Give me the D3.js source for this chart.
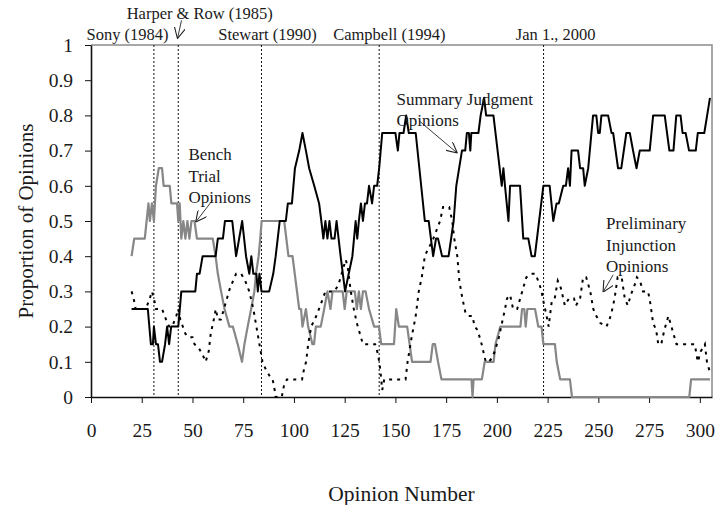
<!DOCTYPE html>
<html>
<head>
<meta charset="utf-8">
<script src="https://cdn.jsdelivr.net/npm/d3@7"></script>
<style>
  body { margin: 0; background: #fff; }
  text { font-family: "Liberation Serif", "DejaVu Serif", serif; fill: #1a1a1a; }
</style>
</head>
<body>
<svg id="chart"></svg>
<script>
// rolling proportions: [opinion number, proportion]
var summaryJudgment = [
  [20,0.25],[28,0.25],[29.5,0.15],[30.5,0.15],[31,0.2],[32,0.15],[33,0.15],[34,0.1],[35,0.1],
  [36.5,0.15],[37.5,0.2],[38.5,0.15],[39.5,0.2],[43,0.2],[44.5,0.3],[51.4,0.3],[52.2,0.35],
  [53.5,0.35],[55,0.4],[61.4,0.4],[62.5,0.45],[65,0.45],[66,0.5],[69.6,0.5],[71.5,0.4],
  [74.5,0.5],[76.4,0.4],[78,0.35],[79,0.4],[80,0.35],[81.5,0.35],[82.2,0.3],[83,0.35],[84,0.3],
  [87.8,0.3],[89.8,0.35],[91,0.4],[92,0.45],[93,0.5],[96,0.5],[97,0.55],[99,0.55],[100.5,0.65],
  [102.6,0.7],[104.2,0.75],[105.9,0.7],[107.5,0.65],[110,0.6],[112.4,0.55],[113.5,0.5],
  [114.5,0.45],[115.5,0.5],[116.5,0.45],[117.5,0.5],[118.5,0.45],[120,0.45],[121,0.5],
  [122,0.45],[123,0.4],[125.2,0.3],[127,0.35],[128.8,0.4],[130.4,0.5],[131.2,0.45],[132,0.5],
  [133,0.55],[134,0.5],[135,0.55],[136,0.55],[137,0.6],[138.5,0.55],[139.5,0.6],[141,0.6],
  [142,0.65],[143.5,0.75],[150,0.75],[151.2,0.7],[152,0.75],[154,0.75],[155.3,0.8],[156.6,0.75],
  [160,0.75],[164.5,0.5],[166.4,0.5],[168.6,0.4],[170,0.45],[171,0.45],[173,0.4],[176.2,0.4],
  [178.7,0.5],[180,0.6],[182.8,0.7],[184.4,0.7],[185.2,0.75],[186.2,0.75],[186.9,0.7],
  [187.4,0.75],[190.9,0.75],[192,0.8],[193.7,0.85],[194.7,0.8],[198.3,0.8],[202.4,0.6],
  [203.2,0.65],[204,0.6],[205.7,0.5],[206.5,0.6],[211.4,0.6],[213,0.45],[215.5,0.45],
  [217.1,0.4],[218.7,0.4],[222.9,0.6],[226,0.6],[227.8,0.5],[229.4,0.55],[230.5,0.55],
  [232.7,0.6],[234,0.6],[235.1,0.65],[236,0.6],[236.8,0.7],[240,0.7],[241,0.65],[242.5,0.65],
  [243.3,0.6],[245,0.65],[247.4,0.8],[249,0.8],[249.9,0.75],[250.7,0.75],[251.5,0.8],
  [254.8,0.8],[256.5,0.75],[257.3,0.75],[259.7,0.65],[261.3,0.65],[263.8,0.75],[265.5,0.75],
  [267.1,0.7],[268.8,0.65],[270.4,0.7],[275.3,0.7],[277,0.8],[282.7,0.8],[285,0.7],[287,0.7],
  [288.4,0.8],[290.5,0.8],[291.5,0.75],[293,0.75],[294.7,0.7],[298,0.7],[299,0.75],
  [302.2,0.75],[305,0.85]
];

var benchTrial = [
  [20,0.4],[21.3,0.45],[26.5,0.45],[28.3,0.55],[29,0.5],[30,0.55],[31,0.5],[32,0.6],[33.4,0.65],
  [35,0.65],[35.8,0.6],[38.8,0.6],[39.6,0.55],[42.4,0.55],[43,0.5],[43.7,0.55],[44.5,0.45],
  [45.5,0.5],[46.5,0.45],[47.5,0.5],[48.5,0.45],[49.5,0.5],[51,0.5],[52.2,0.45],[60,0.45],
  [61.4,0.4],[62.5,0.35],[64.1,0.3],[65.8,0.25],[68.2,0.2],[69.9,0.2],[72.3,0.15],[74.4,0.1],
  [75.6,0.15],[77.2,0.2],[78.9,0.25],[80.5,0.3],[81.3,0.35],[82.6,0.4],[83.4,0.45],[84.1,0.5],
  [95.2,0.5],[97.3,0.4],[99.3,0.4],[102.6,0.25],[103.5,0.25],[104.2,0.2],[105.9,0.25],[107,0.2],
  [109.1,0.15],[109.9,0.15],[110.8,0.2],[113.2,0.2],[114.9,0.25],[116.5,0.3],[118,0.25],
  [119,0.3],[124,0.3],[125,0.25],[126,0.3],[130,0.3],[131,0.25],[132,0.3],[133,0.25],[134,0.3],
  [135.3,0.3],[137,0.25],[139.5,0.2],[141.9,0.2],[143,0.15],[149.3,0.15],[150.4,0.25],
  [151.7,0.2],[155.8,0.2],[157,0.15],[158.2,0.1],[167.3,0.1],[168.4,0.15],[169.5,0.15],
  [171,0.1],[172.7,0.05],[187.5,0.05],[188,0],[188.5,0.05],[192.6,0.05],[194,0.1],[198.4,0.1],
  [199.3,0.15],[201.7,0.2],[211.6,0.2],[212.4,0.25],[213.5,0.25],[214.2,0.2],[215,0.25],
  [218.8,0.25],[220.4,0.2],[222,0.2],[222.9,0.15],[228.6,0.15],[229.5,0.1],[231.2,0.05],
  [236,0.05],[237,0],[294.8,0],[295.7,0.05],[305,0.05]
];

var prelimInjunction = [
  [20,0.3],[21,0.28],[22,0.25],[27,0.25],[29,0.28],[30,0.3],[31,0.28],[32,0.25],[35,0.25],
  [37,0.22],[38.5,0.2],[40,0.2],[42,0.23],[43,0.25],[44,0.22],[46.5,0.18],[48,0.17],[50,0.17],
  [51,0.15],[53,0.14],[55,0.12],[56.5,0.1],[58,0.13],[59,0.18],[60.5,0.22],[61.5,0.25],
  [62.5,0.22],[64,0.22],[65.5,0.25],[67,0.28],[68.5,0.31],[70,0.33],[71.5,0.35],[74,0.35],
  [76,0.33],[78,0.3],[80,0.25],[81.5,0.2],[83,0.15],[84.5,0.1],[86,0.08],[88,0.06],[89.5,0.05],
  [90.5,0.02],[91,0],[94,0],[95,0.03],[96.5,0.05],[104,0.05],[105,0.08],[106,0.1],[107,0.15],
  [108.5,0.2],[111,0.23],[113,0.26],[115.5,0.3],[117,0.3],[120,0.3],[122,0.32],[124,0.36],
  [125.5,0.39],[126.5,0.37],[128,0.3],[129.5,0.25],[131,0.21],[132.5,0.18],[134,0.15],
  [140,0.15],[141.5,0.12],[142.5,0.08],[143.5,0.02],[144.5,0.05],[155,0.05],[156,0.1],
  [158,0.17],[160,0.23],[161.5,0.3],[163,0.34],[164.5,0.4],[166,0.42],[168,0.44],[170,0.47],
  [172,0.5],[173.5,0.54],[176.5,0.54],[178,0.5],[179,0.45],[180.5,0.4],[181.5,0.33],[183,0.28],
  [184.5,0.24],[186,0.23],[188,0.23],[189,0.2],[190.5,0.19],[192.5,0.15],[194.5,0.1],[196,0.1],
  [197.5,0.11],[199,0.13],[201,0.17],[202.5,0.21],[204,0.25],[205,0.28],[206.5,0.29],[208,0.25],
  [210,0.25],[211.5,0.28],[213,0.31],[214.5,0.34],[217,0.35],[219,0.35],[221,0.32],[222,0.3],
  [223,0.27],[224.5,0.23],[225.5,0.2],[227,0.27],[228.5,0.28],[230,0.33],[231.5,0.31],
  [233.5,0.26],[235.5,0.28],[238,0.28],[239,0.26],[241,0.28],[242.5,0.34],[244,0.34],[246,0.3],
  [247.5,0.25],[249,0.23],[251,0.21],[254,0.2],[255.5,0.22],[256.5,0.24],[258,0.28],
  [259.5,0.34],[261.5,0.34],[263,0.28],[264.5,0.26],[266,0.29],[268,0.32],[269,0.34],
  [270.5,0.33],[272,0.3],[274.5,0.3],[275.5,0.27],[276.5,0.23],[277,0.21],[278.5,0.19],
  [279.5,0.15],[281,0.15],[282.5,0.19],[284.5,0.23],[286,0.2],[287.5,0.17],[288.5,0.15],
  [297.5,0.15],[299,0.1],[300.5,0.13],[302.5,0.15],[303.5,0.1],[305,0.07]
];

// landmark cases
var eventX = [31, 43, 84, 142, 223];
var eventLabels = ["Sony (1984)", "Harper & Row (1985)", "Stewart (1990)", "Campbell (1994)", "Jan 1., 2000"];

var xTicks = [0, 25, 50, 75, 100, 125, 150, 175, 200, 225, 250, 275, 300];
var yTicks = [0, 0.1, 0.2, 0.3, 0.4, 0.5, 0.6, 0.7, 0.8, 0.9, 1];

// set the dimensions and margins of the graph
var margin = {top: 45, right: 6, bottom: 108, left: 91},
  width = 718 - margin.left - margin.right,
  height = 505 - margin.top - margin.bottom;

var svg = d3.select("#chart")
  .attr("width", width + margin.left + margin.right)
  .attr("height", height + margin.top + margin.bottom)
  .append("g")
  .attr("transform", "translate(" + margin.left + "," + margin.top + ")");

var x = d3.scaleLinear().domain([0, 306]).range([0, width]);
var y = d3.scaleLinear().domain([0, 1]).range([height, 0]);

// arrow head
svg.append("defs").append("marker")
  .attr("id", "arrow")
  .attr("markerUnits", "userSpaceOnUse")
  .attr("viewBox", "0 0 10 10")
  .attr("refX", 10).attr("refY", 5)
  .attr("markerWidth", 11).attr("markerHeight", 11)
  .attr("orient", "auto")
  .append("path")
  .attr("d", "M0,0 L10,5 L0,10")
  .attr("fill", "none")
  .attr("stroke", "#222")
  .attr("stroke-width", 1);

// frame: top and right in grey
svg.append("path")
  .attr("d", "M0,0 H" + width + " V" + height)
  .attr("fill", "none")
  .attr("stroke", "#8c8c8c")
  .attr("stroke-width", 1.5);

// axes
var xAxis = svg.append("g")
  .attr("transform", "translate(0," + height + ")")
  .call(d3.axisBottom(x).tickValues(xTicks).tickSize(6).tickPadding(20).tickSizeOuter(0));
var yAxis = svg.append("g")
  .call(d3.axisLeft(y).tickValues(yTicks).tickSize(6).tickPadding(12).tickSizeOuter(0)
    .tickFormat(function(d) { return +d.toFixed(1); }));
[xAxis, yAxis].forEach(function(a) {
  a.select(".domain").attr("stroke", "#111").attr("stroke-width", 1.6);
  a.selectAll(".tick line").attr("stroke", "#111").attr("stroke-width", 1);
  a.selectAll("text").style("font-size", "19.5px").attr("fill", "#1a1a1a");
});

// landmark lines
svg.selectAll(".event")
  .data(eventX)
  .enter().append("line")
  .attr("class", "event")
  .attr("x1", function(d) { return x(d); })
  .attr("x2", function(d) { return x(d); })
  .attr("y1", y(1)).attr("y2", y(0))
  .attr("stroke", "#111")
  .attr("stroke-width", 1)
  .attr("stroke-dasharray", "2,2");

// landmark labels (x, proportion) placement above the frame
var eventLabelPos = [[18, 1.015], [53.6, 1.075], [87, 1.015], [147, 1.015], [229, 1.015]];
svg.selectAll(".eventLabel")
  .data(eventLabels)
  .enter().append("text")
  .attr("class", "eventLabel")
  .attr("x", function(d, i) { return x(eventLabelPos[i][0]); })
  .attr("y", function(d, i) { return y(eventLabelPos[i][1]); })
  .attr("text-anchor", "middle")
  .style("font-size", "16.5px")
  .text(function(d) { return d; });

// series
var line = d3.line()
  .x(function(d) { return x(d[0]); })
  .y(function(d) { return y(d[1]); });

svg.append("path")
  .datum(benchTrial)
  .attr("d", line)
  .attr("fill", "none")
  .attr("stroke", "#878787")
  .attr("stroke-width", 2.2)
  .attr("stroke-linejoin", "round");

svg.append("path")
  .datum(prelimInjunction)
  .attr("d", line)
  .attr("fill", "none")
  .attr("stroke", "#000")
  .attr("stroke-width", 2)
  .attr("stroke-dasharray", "3,5");

svg.append("path")
  .datum(summaryJudgment)
  .attr("d", line)
  .attr("fill", "none")
  .attr("stroke", "#000")
  .attr("stroke-width", 2)
  .attr("stroke-linejoin", "round");

// series annotations
var notes = [
  {lines: ["Bench", "Trial", "Opinions"], at: [48, 0.673], from: [60, 0.56], to: [51.6, 0.497]},
  {lines: ["Summary Judgment", "Opinions"], at: [150.5, 0.83], from: [161.8, 0.784], to: [180.5, 0.693]},
  {lines: ["Preliminary", "Injunction", "Opinions"], at: [253.8, 0.477], from: [257.3, 0.347], to: [252.3, 0.298]},
  {lines: [], at: [0, 0], from: [44.6, 1.07], to: [42.6, 1.018]}
];
notes.forEach(function(n) {
  var t = svg.append("text")
    .attr("x", x(n.at[0]))
    .attr("y", y(n.at[1]))
    .style("font-size", "17px");
  n.lines.forEach(function(s, i) {
    t.append("tspan").attr("x", x(n.at[0])).attr("dy", i ? "1.27em" : 0).text(s);
  });
  svg.append("line")
    .attr("x1", x(n.from[0])).attr("y1", y(n.from[1]))
    .attr("x2", x(n.to[0])).attr("y2", y(n.to[1]))
    .attr("stroke", "#222")
    .attr("stroke-width", 0.9)
    .attr("marker-end", "url(#arrow)");
});

// axis titles
svg.append("text")
  .attr("x", width / 2)
  .attr("y", height + 104)
  .attr("text-anchor", "middle")
  .style("font-size", "21.5px")
  .text("Opinion Number");

svg.append("text")
  .attr("transform", "rotate(-90)")
  .attr("x", -height / 2)
  .attr("y", -58)
  .attr("text-anchor", "middle")
  .style("font-size", "21px")
  .text("Proportion of Opinions");
</script>
</body>
</html>
